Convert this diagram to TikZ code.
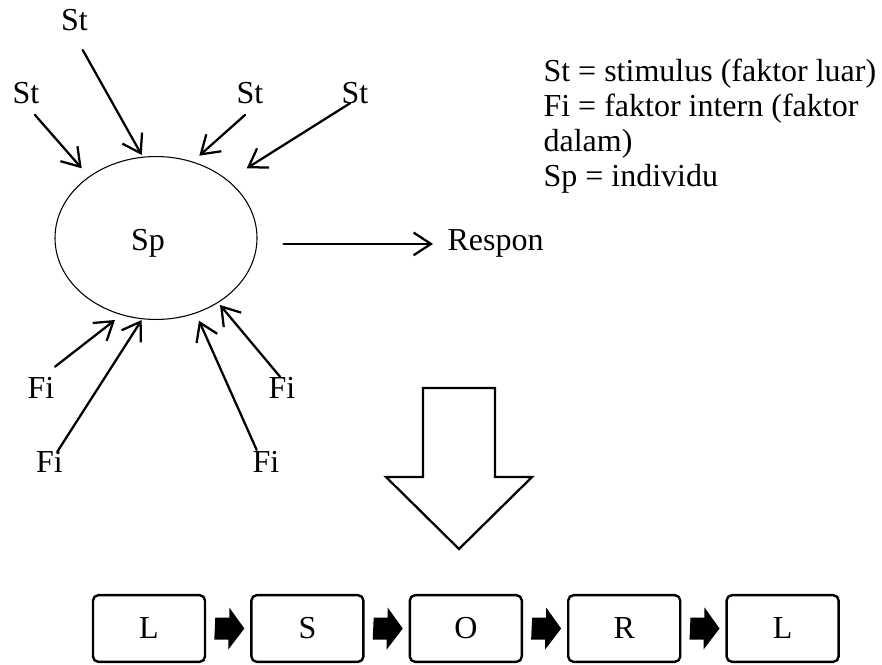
\documentclass[tikz,border=0pt]{standalone}
\usepackage{fontspec}
\setmainfont{Liberation Serif}
\usetikzlibrary{arrows.meta,positioning,shapes.geometric}
\tikzset{
  lbl/.style={anchor=base, inner sep=1pt},
  leg/.style={anchor=base west, inner sep=0pt},
  arr/.style={->, line width=0.85pt},
  lsor/.style={draw, line width=0.9pt, rounded corners=2pt, minimum width=42pt, minimum height=25pt, inner sep=0pt},
}
\begin{document}
\begin{tikzpicture}[x=0.375pt, y=-0.375pt, font=\fontsize{12}{14}\selectfont, line join=round, line cap=round, >={Straight Barb[length=6.5pt,width=8.5pt]}]
\useasboundingbox (0,0) rectangle (882,665);
% individu and the factors
\node[draw, ellipse, line width=0.4pt, minimum width=75.75pt, minimum height=61.1pt, inner sep=0pt] (sp) at (156,238) {};
\node[lbl] (splbl) at (148,251) {Sp};
\node[lbl] (st1) at (74.5,30.7) {St};
\node[lbl] (st2) at (26,104) {St};
\node[lbl] (st3) at (250,104) {St};
\node[lbl] (st4) at (355,104) {St};
\node[lbl] (fi1) at (41,398) {Fi};
\node[lbl] (fi2) at (49.5,472) {Fi};
\node[lbl] (fi3) at (266,472) {Fi};
\node[lbl] (fi4) at (282,398) {Fi};
\draw[arr] (82.7,50) coordinate (st1a) -- (141.7,155) coordinate (st1b);
\draw[arr] (35,115) coordinate (st2a) -- (81.7,168.3) coordinate (st2b);
\draw[arr] (245,115) coordinate (st3a) -- (199.3,155.7) coordinate (st3b);
\draw[arr] (350,103.3) coordinate (st4a) -- (246.7,168.3) coordinate (st4b);
\draw[arr] (55,366.7) coordinate (fi1a) -- (115,320) coordinate (fi1b);
\draw[arr] (57.3,451.7) coordinate (fi2a) -- (141.7,320) coordinate (fi2b);
\draw[arr] (256.7,450) coordinate (fi3a) -- (199,320.7) coordinate (fi3b);
\draw[arr] (280,376.7) coordinate (fi4a) -- (220,305) coordinate (fi4b);
% response
\node[anchor=base west, inner sep=0pt] (respon) at (447,251) {Respon};
\draw[arr] ([xshift=9.75pt]sp.east |- respon.west) -- ([xshift=-5.25pt]respon.west);
% legend
\node[leg] (leg1) at (543,82) {St = stimulus (faktor luar)};
\node[leg] (leg2) at (543,117) {Fi = faktor intern (faktor};
\node[leg] (leg3) at (543,152) {dalam)};
\node[leg] (leg4) at (543,187) {Sp = individu};
% big arrow down
\draw[line width=0.85pt, line join=miter] (423,388) -- (495,388) -- (495,477) -- (532,477) -- (459,549) -- (386,477) -- (423,477) -- cycle;
% L-S-O-R-L chain
\node[lsor] (l1) at (149,628.5) {L};
\node[lsor, right=16.5pt of l1] (s) {S};
\node[lsor, right=16.5pt of s] (o) {O};
\node[lsor, right=16.5pt of o] (r) {R};
\node[lsor, right=16.5pt of r] (l2) {L};
\foreach \a/\b in {l1/s, s/o, o/r, r/l2}
  \fill ([xshift=3.4pt]\a.east) ++(0,-11) -- ++(14,0) -- ++(0,-10) -- ([xshift=-2.2pt]\b.west) -- ++(-16,21) -- ++(0,-10) -- ++(-14,0) -- cycle;
\end{tikzpicture}
\end{document}
